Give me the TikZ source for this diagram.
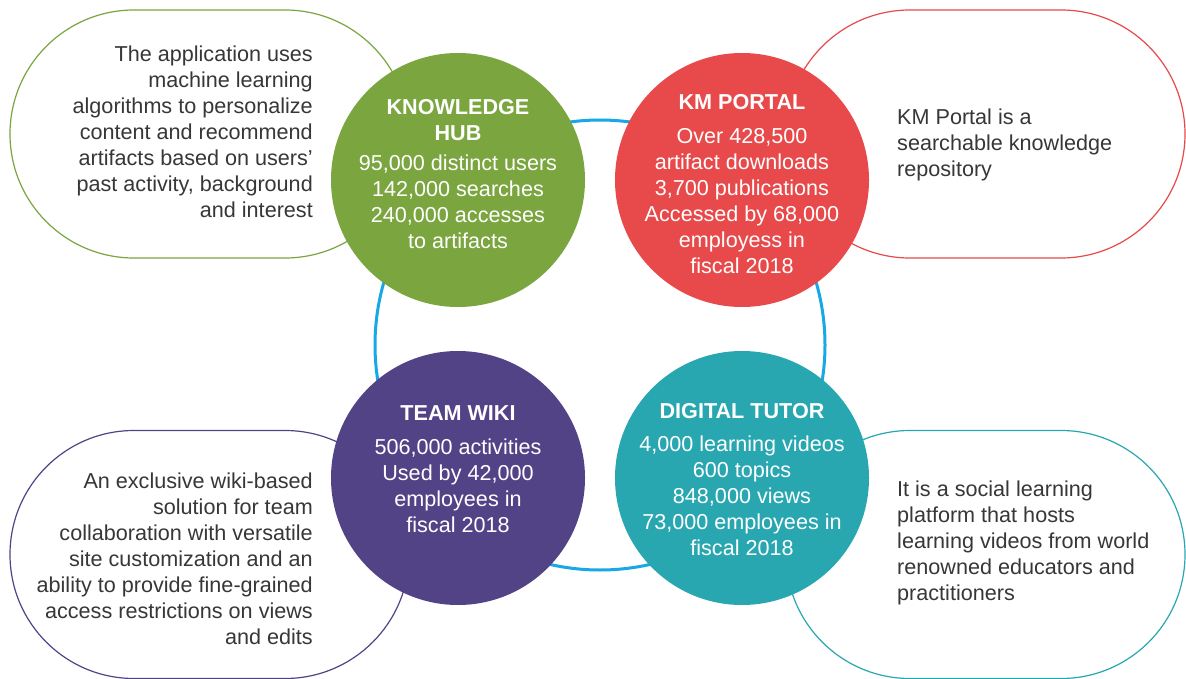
\documentclass[tikz,border=0pt]{standalone}
\usepackage{fontspec}
\setmainfont{Liberation Sans}
\definecolor{kgreen}{RGB}{122,165,63}
\definecolor{kred}{RGB}{232,73,74}
\definecolor{kpurple}{RGB}{82,67,135}
\definecolor{kteal}{RGB}{41,167,177}
\definecolor{kblue}{RGB}{24,168,230}
\definecolor{ktext}{RGB}{55,55,55}
\tikzset{
  pill/.style={draw=#1, line width=1.2pt, fill=white, rectangle, rounded corners=124pt,
    minimum width=399pt, minimum height=248pt, inner sep=0pt},
  bubble/.style={circle, fill=#1, minimum size=254pt, inner sep=0pt},
  desc/.style={text=ktext, font=\fontsize{21.6}{26}\selectfont, inner sep=0pt},
  stats/.style={text=white, font=\fontsize{21.6}{26}\selectfont, align=center, inner sep=0pt},
  ring/.style={draw=kblue, line width=3pt}
}
\begin{document}
\begin{tikzpicture}[x=1pt,y=-1pt]
\useasboundingbox (0,0) rectangle (1186,679);
\fill[white] (0,0) rectangle (1186,679);
% pills
\node[pill=kgreen] (pgreen) at (209.5,134) {};
\node[pill=kred] (pred) at (985.5,134) {};
\node[pill=kpurple] (ppurple) at (209.5,554.5) {};
\node[pill=kteal] (pteal) at (985.5,554.5) {};
% ring
\node[ring, circle, minimum size=450pt, inner sep=0pt] (ring) at (600,345) {};
% circles
\node[bubble=kgreen] (kh) at (458,180) {};
\node[bubble=kred] (km) at (742,180) {};
\node[bubble=kpurple] (tw) at (458,478) {};
\node[bubble=kteal] (dt) at (742,478) {};
% circle texts
\node[stats] (khtext) at (458,174) {\textbf{KNOWLEDGE}\\\textbf{HUB}\\[4pt]95,000 distinct users\\142,000 searches\\240,000 accesses\\to artifacts};
\node[stats] (kmtext) at (742,184) {\textbf{KM PORTAL}\\[8pt]Over 428,500\\artifact downloads\\3,700 publications\\Accessed by 68,000\\employess in\\fiscal 2018};
\node[stats] (twtext) at (458,469) {\textbf{TEAM WIKI}\\[8pt]506,000 activities\\Used by 42,000\\employees in\\fiscal 2018};
\node[stats] (dttext) at (742,480) {\textbf{DIGITAL TUTOR}\\[7pt]4,000 learning videos\\600 topics\\848,000 views\\73,000 employees in\\fiscal 2018};
% pill texts
\node[desc, align=right, anchor=east] (gtext) at (313,131.5) {The application uses\\machine learning\\algorithms to personalize\\content and recommend\\artifacts based on users’\\past activity, background\\and interest};
\node[desc, align=left, anchor=west] (rtext) at (897,144.5) {KM Portal is a\\searchable knowledge\\repository};
\node[desc, align=right, anchor=east] (ptext) at (313,558.5) {An exclusive wiki-based\\solution for team\\collaboration with versatile\\site customization and an\\ability to provide fine-grained\\access restrictions on views\\and edits};
\node[desc, align=left, anchor=west] (ttext) at (897,543) {It is a social learning\\platform that hosts\\learning videos from world\\renowned educators and\\practitioners};
\end{tikzpicture}
\end{document}
